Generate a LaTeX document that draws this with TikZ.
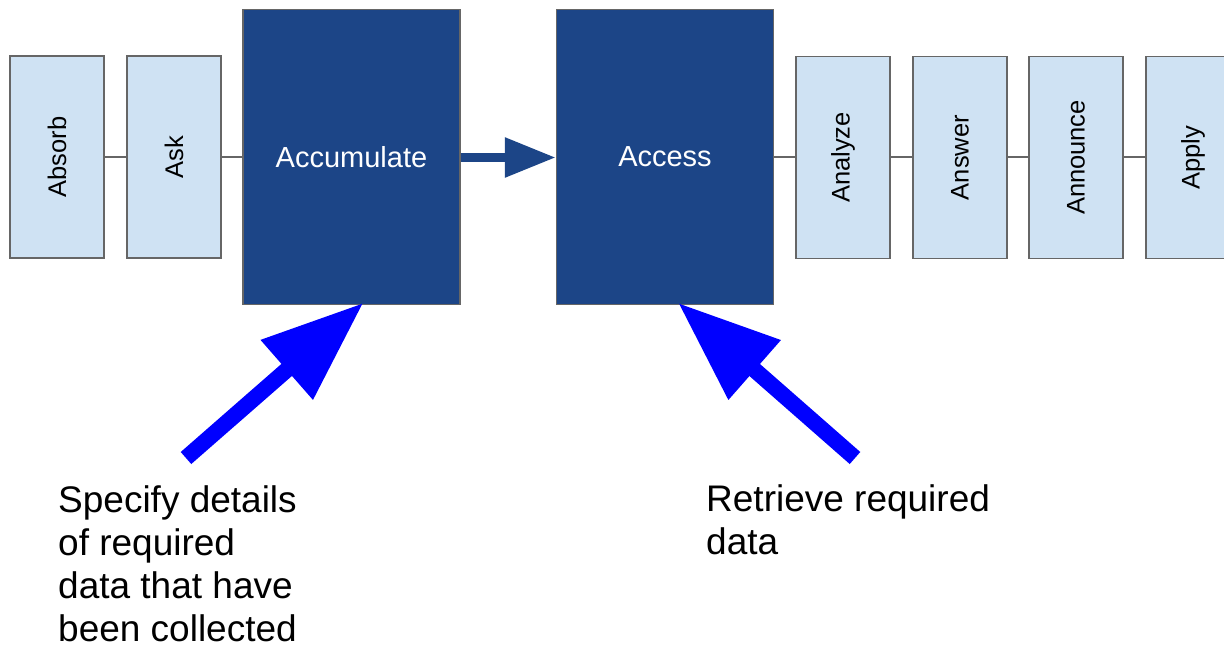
\documentclass[tikz,border=0pt]{standalone}
\usepackage{fontspec}
\setmainfont{Liberation Sans}
\usetikzlibrary{arrows.meta}
\definecolor{darkbox}{HTML}{1C4587}
\definecolor{lightbox}{HTML}{CFE2F3}
\definecolor{boxgray}{HTML}{666666}
\definecolor{pointerblue}{HTML}{0000FF}
\tikzset{
  smallbox/.style={draw=boxgray, fill=lightbox, line width=1.5pt, inner sep=0pt,
    minimum width=94pt, minimum height=202pt, font=\fontsize{25.5}{30}\selectfont},
  bigbox/.style={draw=boxgray, fill=darkbox, line width=1.5pt, inner sep=0pt,
    minimum width=217pt, minimum height=295pt, text=white, font=\fontsize{29}{34}\selectfont},
  link/.style={draw=boxgray, line width=1.5pt},
  flow/.style={draw=darkbox, line width=9pt, -{Triangle[length=51pt,width=38pt]}},
  pointer/.style={draw=pointerblue, line width=16pt, -{Triangle[length=102pt,width=75pt]}},
  note/.style={align=left, inner sep=0pt, anchor=north west, font=\fontsize{37}{43}\selectfont}
}
\begin{document}
\begin{tikzpicture}[x=1pt,y=-1pt]
\useasboundingbox (0,0) rectangle (1224,646);
\clip (0,0) rectangle (1224,646);

% upstream steps
\node[smallbox] (absorb) at (57,157) {\rotatebox{90}{Absorb}};
\node[smallbox] (ask) at (174,157) {\rotatebox{90}{Ask}};

% the two highlighted steps
\node[bigbox] (accum) at (351.5,157) {Accumulate};
\node[bigbox] (access) at (665,157) {Access};

% downstream steps
\node[smallbox] (analyze) at (843,157.5) {\rotatebox{90}{Analyze}};
\node[smallbox] (answer) at (960,157.5) {\rotatebox{90}{Answer}};
\node[smallbox] (announce) at (1076,157.5) {\rotatebox{90}{Announce}};
\node[smallbox] (apply) at (1193,157.5) {\rotatebox{90}{Apply}};

% chain connectors
\draw[link] (absorb.east |- 0,157) -- (ask.west |- 0,157);
\draw[link] (ask.east |- 0,157) -- (accum.west |- 0,157);
\draw[link] (access.east |- 0,157) -- (analyze.west |- 0,157);
\draw[link] (analyze.east |- 0,157) -- (answer.west |- 0,157);
\draw[link] (answer.east |- 0,157) -- (announce.west |- 0,157);
\draw[link] (announce.east |- 0,157) -- (apply.west |- 0,157);

% main flow
\draw[flow] (accum.east |- 0,157.5) -- (access.west |- 0,157.5);

% annotations
\node[note] (specify) at (58,485.5) {Specify details\\of required\\data that have\\been collected};
\node[note] (retrieve) at (706,484) {Retrieve required\\data};

\coordinate (tailA) at (186,458);
\coordinate (tailB) at (855,458);
\draw[pointer] (tailA) -- ([xshift=12pt,yshift=2.5pt]accum.south);
\draw[pointer] (tailB) -- ([xshift=13pt,yshift=2.5pt]access.south);
\end{tikzpicture}
\end{document}
